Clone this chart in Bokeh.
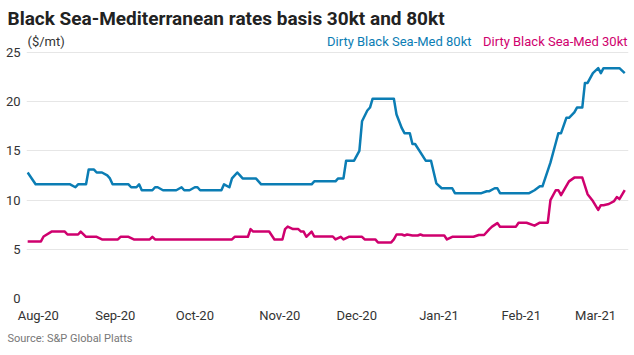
import pandas as pd
from bokeh.plotting import figure
from bokeh.models import Range1d, Label, FixedTicker, DatetimeTickFormatter, Title
from bokeh.embed import file_html
from bokeh.resources import INLINE

series_80_name = "Dirty Black Sea-Med 80kt"
series_30_name = "Dirty Black Sea-Med 30kt"

dates_80 = ["2020-07-30", "2020-08-02", "2020-08-15", "2020-08-17", "2020-08-18", "2020-08-21",
            "2020-08-22", "2020-08-24", "2020-08-25", "2020-08-27", "2020-08-29", "2020-08-30",
            "2020-08-31", "2020-09-06", "2020-09-07", "2020-09-09", "2020-09-10", "2020-09-11",
            "2020-09-15", "2020-09-16", "2020-09-17", "2020-09-19", "2020-09-24", "2020-09-26",
            "2020-09-27", "2020-09-29", "2020-10-01", "2020-10-02", "2020-10-03", "2020-10-11",
            "2020-10-12", "2020-10-14", "2020-10-15", "2020-10-17", "2020-10-18", "2020-10-19",
            "2020-10-24", "2020-10-26", "2020-11-14", "2020-11-15", "2020-11-23", "2020-11-24",
            "2020-11-26", "2020-11-27", "2020-11-30", "2020-12-02", "2020-12-03", "2020-12-05",
            "2020-12-06", "2020-12-07", "2020-12-15", "2020-12-16", "2020-12-18", "2020-12-19",
            "2020-12-21", "2020-12-22", "2020-12-23", "2020-12-27", "2020-12-29", "2020-12-31",
            "2021-01-02", "2021-01-06", "2021-01-07", "2021-01-17", "2021-01-19", "2021-01-20",
            "2021-01-22", "2021-01-23", "2021-01-24", "2021-02-04", "2021-02-06", "2021-02-08",
            "2021-02-09", "2021-02-12", "2021-02-14", "2021-02-15", "2021-02-16", "2021-02-18",
            "2021-02-19", "2021-02-21", "2021-02-22", "2021-02-24", "2021-02-25", "2021-02-26",
            "2021-02-28", "2021-03-02", "2021-03-03", "2021-03-04", "2021-03-10", "2021-03-12"]
values_80 = [12.8, 11.6, 11.6, 11.3, 11.6, 11.6, 13.1, 13.1, 12.8, 12.8, 12.5, 12.2, 11.6,
             11.6, 11.3, 11.3, 11.6, 11.0, 11.0, 11.3, 11.3, 11.0, 11.0, 11.3, 11.0, 11.0,
             11.3, 11.3, 11.0, 11.0, 11.6, 11.3, 12.2, 12.8, 12.5, 12.2, 12.2, 11.6,
             11.6, 11.9, 11.9, 12.2, 12.2, 14.0, 14.0,
             15.0, 18.0, 19.1, 19.4, 20.3, 20.3, 18.7, 17.3, 16.8, 16.8, 15.7, 15.7, 14.0, 14.0, 11.7,
             11.2, 11.2, 10.7, 10.7, 10.9, 10.9, 11.2, 11.2, 10.7,
             10.7, 11.0, 11.4, 11.4, 13.8, 15.8, 16.8, 16.8, 18.35, 18.35, 18.9, 19.4, 19.4, 21.9,
             21.9, 22.9,
             23.4, 22.9, 23.4, 23.4, 22.9]

dates_30 = ["2020-07-30", "2020-08-04", "2020-08-05", "2020-08-08", "2020-08-13", "2020-08-14",
            "2020-08-18", "2020-08-19", "2020-08-21", "2020-08-25", "2020-08-27", "2020-09-02",
            "2020-09-03", "2020-09-06", "2020-09-08", "2020-09-14", "2020-09-15", "2020-09-16",
            "2020-10-15", "2020-10-16", "2020-10-21", "2020-10-22", "2020-10-23", "2020-10-29",
            "2020-10-31", "2020-11-03", "2020-11-04", "2020-11-05", "2020-11-07", "2020-11-09",
            "2020-11-10", "2020-11-11", "2020-11-12", "2020-11-14", "2020-11-15", "2020-11-22",
            "2020-11-23", "2020-11-25", "2020-11-26", "2020-11-28", "2020-12-03", "2020-12-04",
            "2020-12-08", "2020-12-09", "2020-12-14", "2020-12-15", "2020-12-16", "2020-12-18",
            "2020-12-19", "2020-12-20", "2020-12-22", "2020-12-24", "2020-12-25", "2020-12-26",
            "2021-01-03", "2021-01-04", "2021-01-06", "2021-01-14", "2021-01-16", "2021-01-18",
            "2021-01-20", "2021-01-21", "2021-01-23", "2021-01-24", "2021-01-30", "2021-01-31",
            "2021-02-03", "2021-02-06", "2021-02-08", "2021-02-11", "2021-02-12", "2021-02-14",
            "2021-02-15", "2021-02-16", "2021-02-18", "2021-02-19", "2021-02-21", "2021-02-24",
            "2021-02-26", "2021-02-28", "2021-03-02", "2021-03-03", "2021-03-04", "2021-03-06",
            "2021-03-08", "2021-03-09", "2021-03-10", "2021-03-12"]
values_30 = [5.8, 5.8, 6.3, 6.8, 6.8, 6.5, 6.5, 6.8, 6.27, 6.27, 6.0, 6.0,
             6.27, 6.27, 6.0, 6.0, 6.27, 6.0,
             6.0, 6.27, 6.27, 7.05, 6.8, 6.8, 6.0, 6.0, 7.05, 7.3, 7.05, 7.05,
             6.8, 6.8, 6.27, 6.8, 6.3, 6.3, 6.0, 6.27, 6.0, 6.27,
             6.27, 6.0, 6.0, 5.7, 5.7, 6.0, 6.5, 6.5, 6.4, 6.5, 6.4, 6.4, 6.5, 6.4,
             6.4, 6.0, 6.27, 6.27, 6.45, 6.45, 7.05, 7.3, 7.66, 7.3, 7.3, 7.7,
             7.7, 7.4, 7.7, 7.7, 10.0, 11.0, 11.0, 10.5, 11.44, 11.9, 12.28, 12.28,
             10.6, 9.9, 9.0, 9.48, 9.48, 9.6, 9.9, 10.3, 10.1, 11.0]

# first weekday of each month
month_ticks = ["2020-08-03", "2020-09-01", "2020-10-01", "2020-11-02", "2020-12-01",
               "2021-01-01", "2021-02-01", "2021-03-01"]
y_ticks = [0, 5, 10, 15, 20, 25]

BLUE = "#0b7db4"
PINK = "#cf006e"
FONT = "Roboto"

x80 = pd.to_datetime(dates_80)
x30 = pd.to_datetime(dates_30)
x_start = pd.Timestamp("2020-07-29 13:30")
x_end = pd.Timestamp("2021-03-13 10:00")

p = figure(width=634, height=355, x_axis_type="datetime", output_backend="svg",
           toolbar_location=None, title=None,
           x_range=Range1d(x_start, x_end), y_range=Range1d(0, 26.82),
           min_border_left=26, min_border_right=6, min_border_top=33, min_border_bottom=57)
p.outline_line_color = None
p.background_fill_color = "white"
p.border_fill_color = "white"

p.line(x30, values_30, line_color=PINK, line_width=2.5, line_join="round")
p.line(x80, values_80, line_color=BLUE, line_width=2.5, line_join="round")

p.xgrid.grid_line_color = None
p.ygrid.grid_line_color = "#e6e6e6"
p.ygrid.grid_line_width = 1

p.yaxis.ticker = FixedTicker(ticks=y_ticks)
p.yaxis.axis_line_color = None
p.yaxis.major_tick_line_color = None
p.yaxis.minor_tick_line_color = None
p.yaxis.major_tick_out = 0
p.yaxis.major_tick_in = 0
p.yaxis.minor_tick_out = 0
p.yaxis.major_label_standoff = 6
p.yaxis.major_label_text_font = FONT
p.yaxis.major_label_text_font_size = "13px"
p.yaxis.major_label_text_color = "#333333"

tick_ms = [pd.Timestamp(t).value // 10**6 for t in month_ticks]
p.xaxis.ticker = FixedTicker(ticks=tick_ms)
p.xaxis.formatter = DatetimeTickFormatter(months="%b-%y", days="%b-%y")
p.xaxis.axis_line_color = None
p.xaxis.major_tick_line_color = None
p.xaxis.minor_tick_line_color = None
p.xaxis.major_tick_out = 0
p.xaxis.major_tick_in = 0
p.xaxis.minor_tick_out = 0
p.xaxis.major_label_standoff = 9
p.xaxis.major_label_text_font = FONT
p.xaxis.major_label_text_font_size = "13px"
p.xaxis.major_label_text_color = "#333333"

p.add_layout(Title(text="Black Sea-Mediterranean rates basis 30kt and 80kt", align="left",
                   offset=-19, standoff=9, text_font=FONT, text_font_style="bold",
                   text_font_size="19px", text_color="#222222"), "above")
p.add_layout(Title(text="Source: S&P Global Platts", align="left", offset=-19, standoff=9,
                   text_font=FONT, text_font_style="normal", text_font_size="11px",
                   text_color="#777777"), "below")

# Frame-relative screen units (frame left=26, bottom=298 on canvas)
p.add_layout(Label(x=1, y=257, x_units="screen", y_units="screen", text="($/mt)",
                   text_font=FONT, text_font_size="13px", text_color="#333333",
                   text_baseline="middle", text_align="left"))
p.add_layout(Label(x=601, y=257, x_units="screen", y_units="screen", text=series_30_name,
                   text_font=FONT, text_font_size="13px", text_color=PINK,
                   text_baseline="middle", text_align="right"))
p.add_layout(Label(x=445, y=257, x_units="screen", y_units="screen", text=series_80_name,
                   text_font=FONT, text_font_size="13px", text_color=BLUE,
                   text_baseline="middle", text_align="right"))

open("out.html", "w").write(file_html(p, INLINE))
